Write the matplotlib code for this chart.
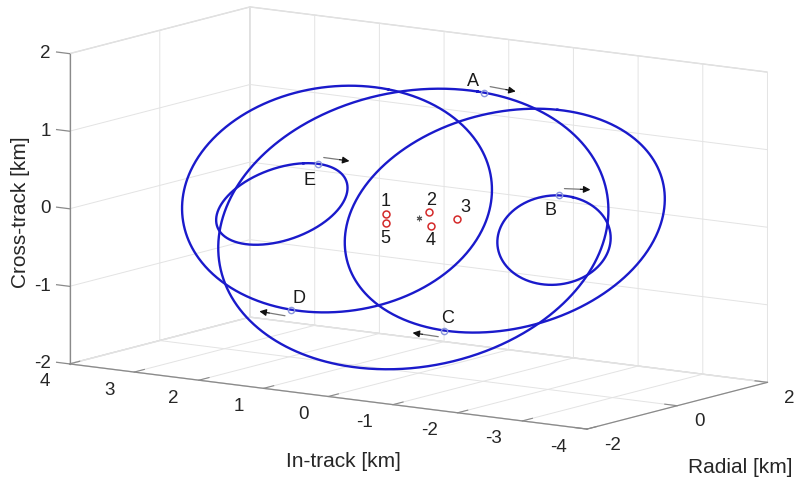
import numpy as np
import matplotlib
matplotlib.use('Agg')
import matplotlib.pyplot as plt
from mpl_toolkits.mplot3d import proj3d

plt.rcParams['font.family'] = ['Liberation Sans', 'DejaVu Sans']
plt.rcParams['axes.unicode_minus'] = False

# relative orbits of the deputies (HCW ellipses about the chief)
sat_names = ['A', 'B', 'C', 'D', 'E']
intrack_ctr = [0.08, -2.095, -1.334, 1.26, 2.113]      # km
xtrack_ctr = [-0.150, -0.065, 0.106, 0.112, -0.041]    # km
radial_amp = [1.424, 0.4136, 1.168, 1.131, 0.4795]     # km
xtrack_amp = [1.559, 0.497, 1.254, 1.251, 0.473]       # km
xtrack_phase = [2.3, 8.9, -2.0, 5.9, -16.9]            # deg
sat_phase = [2, -14, 183, 178, 14]                     # deg, current position

# other objects close to the chief
pt_ids = ['1', '2', '3', '4', '5']
pt_intrack = [0.50, -0.16, -0.60, -0.19, 0.50]
pt_radial = [0.0, 0.0, 0.0, 0.0, 0.0]
pt_xtrack = [0.00, 0.09, 0.05, -0.08, -0.12]

intrack_ticks = [-4, -3, -2, -1, 0, 1, 2, 3, 4]
radial_ticks = [-2, 0, 2]
xtrack_ticks = [-2, -1, 0, 1, 2]

# text offsets in pixels (x right, y up)
sat_lbl_off = [(-11, 11), (-9, -15), (3, 12), (8, 11), (-8, -17)]
pt_lbl_off = [(-1, 12), (2, 12), (8, 12), (0, -15), (-1, -15)]

BLUE = '#1a1acb'
TXT = '#262626'
AXC = '#8a8a8a'
W, H = 796, 482


def orbit(i, th_deg):
    th = np.radians(th_deg)
    a = radial_amp[i]
    intrack = intrack_ctr[i] - 2 * a * np.sin(th)
    radial = a * np.cos(th)
    xtrack = xtrack_ctr[i] + xtrack_amp[i] * np.cos(th + np.radians(xtrack_phase[i]))
    return intrack, radial, xtrack


fig = plt.figure(figsize=(W / 100, H / 100), dpi=100)
side = H
ax = fig.add_axes([(W - side) / 2 / W, 0, side / W, 1], projection='3d')
ax.set_proj_type('ortho')
ax.view_init(elev=10.4, azim=-55.1)
ax.set_xlim(4, -4)
ax.set_ylim(-2, 2)
ax.set_zlim(-2, 2)
ax.set_box_aspect((8, 4, 4))

ax.set_xticks(intrack_ticks)
ax.set_yticks(radial_ticks)
ax.set_zticks(xtrack_ticks)
ax.set_xticklabels([])
ax.set_yticklabels([])
ax.set_zticklabels([])
ax.zaxis.set_ticks_position('lower')

tick_len = {'x': 0.7, 'y': 0.3, 'z': 0.0}
for key, axis in zip('xyz', (ax.xaxis, ax.yaxis, ax.zaxis)):
    axis.set_pane_color((1, 1, 1, 1))
    axis.pane.set_edgecolor('#d9d9d9')
    axis.line.set_color(AXC)
    axis.line.set_linewidth(0.9)
    axis._axinfo['grid'].update(color='#e3e3e3', linewidth=0.7)
    axis._axinfo['tick']['inward_factor'] = 0.0
    axis._axinfo['tick']['outward_factor'] = tick_len[key]
    ax.tick_params(axis=key, color=AXC)

# cross-track tick marks stick out along +in-track from the left edge
for v in xtrack_ticks:
    ax.plot([4.0, 4.2], [-2, -2], [v, v], color=AXC, lw=0.9)

# orbits
th = np.linspace(0, 360, 721)
for i in range(len(sat_names)):
    xi, yr, zc = orbit(i, th)
    ax.plot(xi, yr, zc, color=BLUE, lw=1.7)

# chief and nearby objects
ax.plot([0], [0], [0], ls='none', marker=(6, 2, 0), ms=4, color='#555555', mew=0.8)
ax.plot(pt_intrack, pt_radial, pt_xtrack, ls='none', marker='o', ms=5,
        mfc='none', mec='#d42a2a', mew=1.1)

# deputies' current positions
for i in range(len(sat_names)):
    xi, yr, zc = orbit(i, sat_phase[i])
    ax.plot([xi], [yr], [zc], ls='none', marker='o', ms=4.5, mfc='none',
            mec='#8a96dc', mew=1.0)

# fit the box to the canvas
fig.canvas.draw()
M = ax.get_proj()
cx, cy, _ = proj3d.proj_transform(np.array([4.0, -4.0]), np.array([-2.0, 2.0]),
                                  np.array([-2.0, 2.0]), M)
disp = ax.transData.transform(np.column_stack([cx, cy]))
bb = ax.bbox
ctr = np.array([bb.x0 + bb.width / 2, bb.y0 + bb.height / 2])
q = (disp - ctr) / bb.width
target = np.array([[70.0, H - 365.0], [767.0, H - 71.0]])
dq = q[1] - q[0]
L = np.dot(target[1] - target[0], dq) / np.dot(dq, dq)
c_new = target.mean(axis=0) - L * q.mean(axis=0)
ax.set_position([(c_new[0] - L / 2) / W, (c_new[1] - L / 2) / H, L / W, L / H])
fig.canvas.draw()


def to_px(x, y, z):
    px, py, _ = proj3d.proj_transform(np.atleast_1d(x), np.atleast_1d(y),
                                      np.atleast_1d(z), M)
    return ax.transData.transform(np.column_stack([px, py]))


inv = ax.transData.inverted()


def put_text(x, y, z, s, off, **kw):
    p = inv.transform(to_px(x, y, z)[0])
    kw.setdefault('ha', 'center')
    kw.setdefault('va', 'center')
    kw.setdefault('color', TXT)
    ax.annotate(s, xy=p, xytext=off, textcoords='offset pixels', **kw)


# tick labels along the three front edges
for v in intrack_ticks:
    put_text(v, -2, -2, str(v), (-20, -18), ha='right', fontsize=13.5)
for v in radial_ticks:
    put_text(-4, v, -2, str(v), (17, -16), ha='left', fontsize=13.5)
for v in xtrack_ticks:
    put_text(4, -2, v, str(v), (-19, 0), ha='right', fontsize=13.5)

put_text(0, -2, -2, 'In-track [km]', (15, -65), fontsize=15)
put_text(-4, 0, -2, 'Radial [km]', (63, -62), fontsize=15)
put_text(4, -2, 0, 'Cross-track [km]', (-49, -3), fontsize=15, rotation=90)

# satellite labels and direction-of-motion arrows
for i, name in enumerate(sat_names):
    p0 = to_px(*orbit(i, sat_phase[i]))[0]
    p1 = to_px(*orbit(i, sat_phase[i] + 1.0))[0]
    t = (p1 - p0) / np.hypot(*(p1 - p0))
    n = np.array([-t[1], t[0]])
    start = p0 + 7 * n + 5 * t
    end = start + 26 * t
    mid = start + 16 * t
    s2, m2, e2 = inv.transform(start), inv.transform(mid), inv.transform(end)
    ax.annotate('', xy=m2, xytext=s2,
                arrowprops=dict(arrowstyle='-', color='#7a7a7a', lw=0.9,
                                shrinkA=0, shrinkB=0))
    ax.annotate('', xy=e2, xytext=m2,
                arrowprops=dict(arrowstyle='-|>', color='#111111', lw=0.9,
                                mutation_scale=10, shrinkA=0, shrinkB=0))
    ax.annotate(name, xy=inv.transform(p0), xytext=sat_lbl_off[i],
                textcoords='offset pixels', ha='center', va='center',
                fontsize=13, color='#1a1a1a')

for j, pid in enumerate(pt_ids):
    put_text(pt_intrack[j], pt_radial[j], pt_xtrack[j], pid, pt_lbl_off[j],
             fontsize=13, color='#1a1a1a')

fig.savefig('out.png', dpi=100)
